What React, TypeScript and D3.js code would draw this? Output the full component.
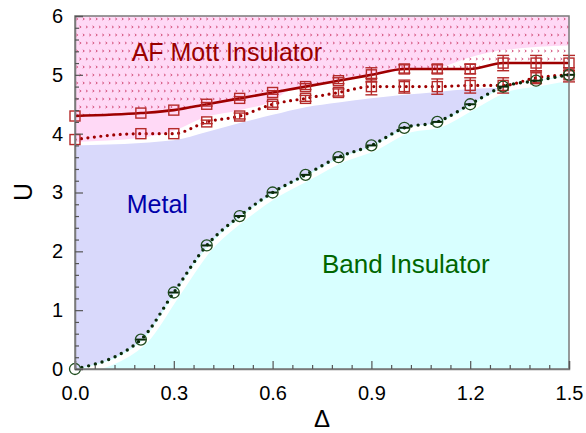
import { useEffect, useRef } from 'react'
import * as d3 from 'd3'

// Δ grid shared by all three boundaries
const DELTA = [0, 0.2, 0.3, 0.4, 0.5, 0.6, 0.7, 0.8, 0.9, 1.0, 1.1, 1.2, 1.3, 1.4, 1.5]
// AF Mott boundary (solid)
const U_AF = [4.3, 4.35, 4.4, 4.5, 4.6, 4.7, 4.8, 4.9, 5.0, 5.1, 5.1, 5.1, 5.2, 5.2, 5.2]
const U_AF_ERR = [0, 0, 0, 0.03, 0.03, 0.03, 0.05, 0.05, 0.12, 0.07, 0.07, 0.08, 0.13, 0.13, 0.13]
// metal boundary (dotted red)
const U_MI = [3.9, 4.0, 4.0, 4.2, 4.3, 4.5, 4.6, 4.7, 4.8, 4.8, 4.8, 4.82, 4.82, 4.95, 5.0]
const U_MI_ERR = [0, 0, 0, 0.03, 0.05, 0.05, 0.05, 0.06, 0.14, 0.11, 0.13, 0.13, 0.13, 0.1, 0.12]
// band insulator boundary (dotted black)
const U_BI = [0, 0.5, 1.3, 2.1, 2.6, 3.0, 3.3, 3.6, 3.8, 4.1, 4.2, 4.5, 4.8, 4.9, 5.0]

// shaded region edges
const PINK_EDGE: [number, number][] = [
  [0, 3.86], [0.2, 3.93], [0.3, 4.05], [0.4, 4.29], [0.5, 4.4], [0.6, 4.56], [0.65, 4.74],
  [0.7, 4.79], [0.8, 4.89], [0.9, 4.99], [1.0, 5.08], [1.1, 5.12], [1.2, 5.3], [1.3, 5.42], [1.5, 5.5],
]
const METAL_EDGE: [number, number][] = [
  [0, 3.8], [0.3, 3.89], [0.4, 4.03], [0.5, 4.18], [0.6, 4.32], [0.7, 4.45], [0.8, 4.53],
  [0.9, 4.6], [1.0, 4.66], [1.1, 4.71], [1.2, 4.76], [1.3, 4.78], [1.5, 4.85],
]

const X_TICKS = [0, 0.3, 0.6, 0.9, 1.2, 1.5]
const Y_TICKS = [0, 1, 2, 3, 4, 5, 6]

const FONT = 'Liberation Sans, Arial, sans-serif'

export default function App() {
  const svgRef = useRef<SVGSVGElement>(null)

  useEffect(() => {
    if (!svgRef.current) return
    const svg = d3.select(svgRef.current)
    svg.selectAll('*').remove()

    const W = 586
    const H = 433
    const margin = { top: 16, right: 17, bottom: 64, left: 75 }
    const w = W - margin.left - margin.right
    const h = H - margin.top - margin.bottom

    const x = d3.scaleLinear().domain([0, 1.5]).range([0, w])
    const y = d3.scaleLinear().domain([0, 6]).range([h, 0])

    const defs = svg.append('defs')
    defs.append('clipPath').attr('id', 'plot-clip')
      .append('rect').attr('width', w).attr('height', h)
    // small arrowhead hatch for the AF region
    const pat = defs.append('pattern').attr('id', 'af-pat')
      .attr('patternUnits', 'userSpaceOnUse').attr('width', 13).attr('height', 16)
    ;[[2, 3], [8.5, 3], [5.2, 11], [11.7, 11]].forEach(([px, py]) => {
      pat.append('path')
        .attr('d', `M${px - 1},${py - 1.8}L${px + 1.4},${py}L${px - 1},${py + 1.8}L${px - 0.2},${py}Z`)
        .attr('fill', '#d24c78')
    })

    const g = svg.append('g').attr('transform', `translate(${margin.left},${margin.top})`)
    const plot = g.append('g').attr('clip-path', 'url(#plot-clip)')

    const pts = (vals: number[]) => DELTA.map((d, i) => [d, vals[i]] as [number, number])
    const line = d3.line<[number, number]>().x(d => x(d[0])).y(d => y(d[1])).curve(d3.curveMonotoneX)
    const areaTop = d3.area<[number, number]>().x(d => x(d[0])).y0(0).y1(d => y(d[1])).curve(d3.curveMonotoneX)
    const areaBottom = d3.area<[number, number]>().x(d => x(d[0])).y0(h).y1(d => y(d[1])).curve(d3.curveMonotoneX)

    // regions
    plot.append('path').datum(PINK_EDGE).attr('d', areaTop).attr('fill', '#ffd9f6')
    plot.append('path').datum(pts(U_AF)).attr('d', areaTop).attr('fill', 'url(#af-pat)')
    plot.append('path').datum(METAL_EDGE).attr('d', areaBottom).attr('fill', '#d9d9fb')
    plot.append('path').datum(pts(U_BI)).attr('d', areaBottom).attr('fill', '#d8ffff')
    plot.append('path').datum(pts(U_BI)).attr('d', line)
      .attr('transform', 'translate(3,3)')
      .attr('fill', 'none').attr('stroke', '#fff').attr('stroke-width', 5)

    // lines
    plot.append('path').datum(pts(U_AF)).attr('d', line)
      .attr('fill', 'none').attr('stroke', '#9e0000').attr('stroke-width', 2.6)
    plot.append('path').datum(pts(U_MI)).attr('d', line)
      .attr('fill', 'none').attr('stroke', '#9e0000').attr('stroke-width', 3.2)
      .attr('stroke-linecap', 'round').attr('stroke-dasharray', '0,6.5')
    plot.append('path').datum(pts(U_BI)).attr('d', line)
      .attr('fill', 'none').attr('stroke', '#0a2a0a').attr('stroke-width', 3.4)
      .attr('stroke-linecap', 'round').attr('stroke-dasharray', '0,7')

    // error bars + square markers
    const red = '#b52a2a'
    const drawSquares = (vals: number[], errs: number[]) => {
      DELTA.forEach((d, i) => {
        const cx = x(d)
        const e = errs[i]
        if (e > 0) {
          const y1 = y(vals[i] + e), y2 = y(vals[i] - e)
          g.append('line').attr('x1', cx).attr('x2', cx).attr('y1', y1).attr('y2', y2)
            .attr('stroke', red).attr('stroke-width', 1.4)
          ;[y1, y2].forEach(yy => g.append('line')
            .attr('x1', cx - 6).attr('x2', cx + 6).attr('y1', yy).attr('y2', yy)
            .attr('stroke', red).attr('stroke-width', 1.4))
        }
        g.append('rect').attr('x', cx - 5).attr('y', y(vals[i]) - 5)
          .attr('width', 10).attr('height', 10)
          .attr('fill', 'none').attr('stroke', red).attr('stroke-width', 1.4)
      })
    }
    drawSquares(U_AF, U_AF_ERR)
    drawSquares(U_MI, U_MI_ERR)

    // circle markers
    DELTA.forEach((d, i) => {
      const cx = x(d), cy = y(U_BI[i])
      g.append('circle').attr('cx', cx).attr('cy', cy).attr('r', 5.5)
        .attr('fill', 'none').attr('stroke', '#1f4d1f').attr('stroke-width', 1.3)
      if (i > 0) {
        g.append('line').attr('x1', cx - 5).attr('x2', cx + 5).attr('y1', cy).attr('y2', cy)
          .attr('stroke', '#0a2a0a').attr('stroke-width', 2)
      }
    })

    // frame
    g.append('rect').attr('width', w).attr('height', h)
      .attr('fill', 'none').attr('stroke', '#7a7a7a').attr('stroke-width', 1.5)

    // axes with inward ticks
    const fmtX = d3.format('.1f')
    const xMinor = d3.range(0, 1.5001, 0.06).filter(v => !X_TICKS.some(t => Math.abs(t - v) < 1e-6))
    const yMinor = d3.range(0, 6.0001, 0.2).filter(v => !Y_TICKS.some(t => Math.abs(t - v) < 1e-6))

    const xAx = g.append('g').attr('transform', `translate(0,${h})`)
      .call(d3.axisBottom(x).tickValues(X_TICKS).tickFormat(d => fmtX(d as number)).tickSize(-8).tickPadding(17))
    g.append('g').attr('transform', `translate(0,${h})`)
      .call(d3.axisBottom(x).tickValues(xMinor).tickFormat(() => '').tickSize(-4))
      .call(a => a.select('.domain').remove())
    const yAx = g.append('g')
      .call(d3.axisLeft(y).tickValues(Y_TICKS).tickFormat(d => String(d)).tickSize(-8).tickPadding(12))
    g.append('g')
      .call(d3.axisLeft(y).tickValues(yMinor).tickFormat(() => '').tickSize(-4))
      .call(a => a.select('.domain').remove())

    g.selectAll('.tick line').attr('stroke', '#555').attr('stroke-width', 1.2)
    g.selectAll('.domain').attr('stroke', '#7a7a7a').attr('stroke-width', 1.5)
    ;[xAx, yAx].forEach(a => a.selectAll('text')
      .attr('font-family', FONT).attr('font-size', 20).attr('fill', '#000'))

    // region labels
    const lab = (tx: number, ty: number, text: string, color: string, size: number) =>
      g.append('text').attr('x', x(tx)).attr('y', y(ty)).text(text)
        .attr('font-family', FONT).attr('font-size', size).attr('fill', color)
    lab(0.172, 5.23, 'AF Mott Insulator', '#990000', 25)
    lab(0.157, 2.65, 'Metal', '#0000aa', 25)
    lab(0.75, 1.63, 'Band Insulator', '#006600', 26)

    // axis titles
    svg.append('text')
      .attr('x', margin.left + x(0.75)).attr('y', 427)
      .attr('text-anchor', 'middle').attr('font-family', FONT)
      .attr('font-size', 24).text('Δ')
    svg.append('text')
      .attr('transform', 'rotate(-90)')
      .attr('x', -192).attr('y', 32)
      .attr('text-anchor', 'middle').attr('font-family', FONT)
      .attr('font-size', 25).text('U')
  }, [])

  return (
    <div style={{ position: 'absolute', left: 0, top: 0, width: 586, height: 433, background: '#fff' }}>
      <svg ref={svgRef} width={586} height={433} style={{ display: 'block' }} />
    </div>
  )
}
